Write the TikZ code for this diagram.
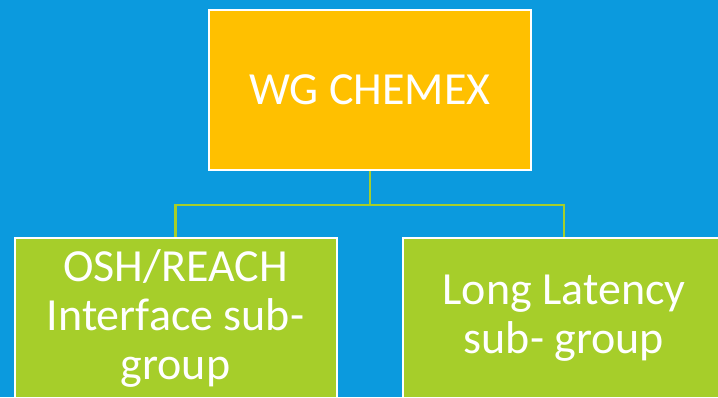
\documentclass[tikz,border=0pt]{standalone}
\usepackage{fontspec}
\setmainfont{Carlito}
\usepackage{tikz}
\usetikzlibrary{positioning,backgrounds}

\definecolor{bgblue}{RGB}{11,154,222}
\definecolor{boxorange}{RGB}{255,192,0}
\definecolor{boxgreen}{RGB}{166,206,42}

\begin{document}
\begin{tikzpicture}[x=1pt, y=1pt,
    groupbox/.style={draw=white, line width=2pt, minimum width=322pt, minimum height=160pt,
        text=white, align=center, inner sep=0pt, font=\fontsize{46}{49}\selectfont},
    link/.style={draw=boxgreen, line width=2.5pt}]
    \clip (0,0) rectangle (718,397);

    \node [groupbox, fill=boxorange] (chemex) at (370,307) {WG CHEMEX};
    \node [groupbox, fill=boxgreen] (osh) at (175.5,79) {OSH/REACH\\Interface sub-\\group};
    \node [groupbox, fill=boxgreen] (latency) at (564,79) {Long Latency\\sub- group};

    \begin{scope}[on background layer]
    \fill [bgblue] (0,0) rectangle (718,397);
    \draw [link] (chemex.south) -- ++(0,-34) -| (osh.north);
    \draw [link] (chemex.south) -- ++(0,-34) -| (latency.north);
    \end{scope}
\end{tikzpicture}
\end{document}
